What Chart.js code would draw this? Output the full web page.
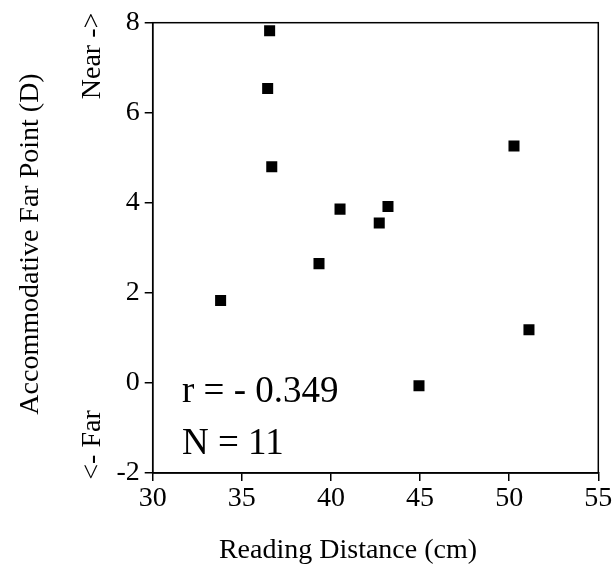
<!DOCTYPE html>
<html>
<head>
<meta charset="utf-8">
<script src="https://cdn.jsdelivr.net/npm/chart.js@4/dist/chart.umd.min.js"></script>
<style>
  html, body { margin: 0; padding: 0; background: #fff; }
  #wrap { width: 615px; height: 567px; position: relative; }
</style>
</head>
<body>
<div id="wrap"><canvas id="chart"></canvas></div>
<script>
const readingDistance = [36.56, 36.45, 36.68, 40.51, 43.2, 42.71, 39.33, 33.81, 50.27, 51.11, 44.94];
const farPoint = [7.82, 6.54, 4.80, 3.86, 3.92, 3.55, 2.65, 1.83, 5.26, 1.18, -0.06];
const xTicks = [30, 35, 40, 45, 50, 55];
const yTicks = [-2, 0, 2, 4, 6, 8];
const statLines = ['r = - 0.349', 'N = 11'];

const serif = '"Liberation Serif", "DejaVu Serif", serif';

// frame + titles + stats text
const extras = {
  id: 'extras',
  afterDraw(chart) {
    const { ctx, chartArea: a } = chart;
    ctx.save();
    ctx.strokeStyle = '#000';
    ctx.lineWidth = 1.5;
    ctx.strokeRect(a.left, a.top, a.right - a.left, a.bottom - a.top);

    ctx.fillStyle = '#000';
    ctx.font = '28px ' + serif;
    ctx.textAlign = 'center';
    ctx.textBaseline = 'alphabetic';
    ctx.fillText('Reading Distance (cm)', 348, 558);

    // rotated y titles
    ctx.save();
    ctx.translate(38, 244);
    ctx.rotate(-Math.PI / 2);
    ctx.fillText('Accommodative Far Point (D)', 0, 0);
    ctx.restore();
    ctx.save();
    ctx.translate(100, 56);
    ctx.rotate(-Math.PI / 2);
    ctx.fillText('Near ->', 0, 0);
    ctx.restore();
    ctx.save();
    ctx.translate(100, 445);
    ctx.rotate(-Math.PI / 2);
    ctx.fillText('<- Far', 0, 0);
    ctx.restore();

    ctx.font = '37px ' + serif;
    ctx.textAlign = 'left';
    ctx.fillText(statLines[0], 182, 402);
    ctx.fillText(statLines[1], 182, 454);
    ctx.restore();
  }
};

new Chart(document.getElementById('chart'), {
  type: 'scatter',
  data: {
    datasets: [{
      data: readingDistance.map((x, i) => ({ x, y: farPoint[i] })),
      pointStyle: 'rect',
      pointRadius: 7.8,
      pointHoverRadius: 7.8,
      backgroundColor: '#000',
      borderColor: '#000',
      borderWidth: 0
    }]
  },
  options: {
    responsive: true,
    maintainAspectRatio: false,
    animation: false,
    events: [],
    layout: { padding: { top: 22.7, right: 16.7, left: 0, bottom: 0 } },
    plugins: { legend: { display: false }, tooltip: { enabled: false } },
    scales: {
      x: {
        type: 'linear',
        min: 30, max: 55,
        afterBuildTicks: s => { s.ticks = xTicks.map(v => ({ value: v })); },
        afterFit: s => { s.height = 94; },
        grid: { drawOnChartArea: false, drawTicks: true, tickLength: 8, color: '#000', lineWidth: 1.5 },
        border: { display: true, color: '#000', width: 1.5 },
        ticks: { color: '#000', font: { family: serif, size: 28 }, padding: 1, maxRotation: 0 }
      },
      y: {
        type: 'linear',
        min: -2, max: 8,
        afterBuildTicks: s => { s.ticks = yTicks.map(v => ({ value: v })); },
        afterFit: s => { s.width = 152.7; },
        grid: { drawOnChartArea: false, drawTicks: true, tickLength: 8, color: '#000', lineWidth: 1.5 },
        border: { display: true, color: '#000', width: 1.5 },
        ticks: { color: '#000', font: { family: serif, size: 28 }, padding: 5 }
      }
    }
  },
  plugins: [extras]
});
</script>
</body>
</html>
